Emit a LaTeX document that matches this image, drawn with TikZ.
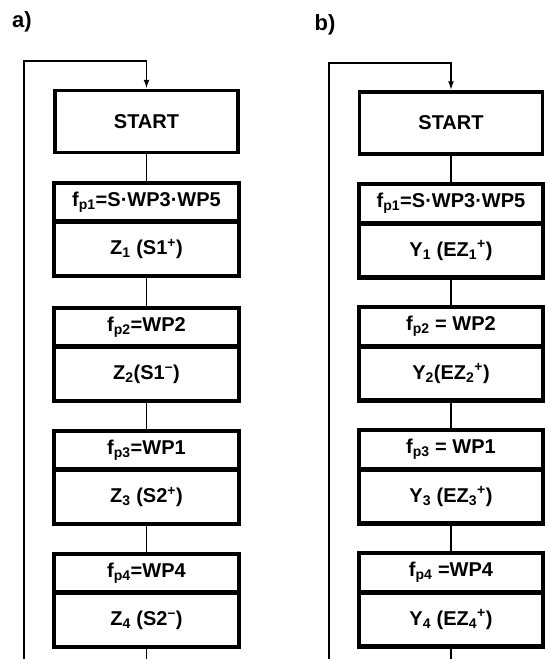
\documentclass[tikz,border=0pt]{standalone}
\usepackage{fontspec}
\setmainfont{Liberation Sans}
\usetikzlibrary{positioning,arrows.meta}
\tikzset{
  boxfont/.style={font=\fontsize{20}{23}\selectfont\bfseries},
  startbox/.style={draw, line width=3.5pt, minimum width=183pt, minimum height=62pt, inner sep=0pt, boxfont},
  condbox/.style={draw, line width=2.5pt, minimum width=183pt, minimum height=37pt, inner sep=0pt, boxfont},
  actbox/.style={draw, line width=2.5pt, minimum width=183pt, minimum height=52pt, inner sep=0pt, boxfont},
  frame/.style={line width=3.5pt},
  link/.style={line width=1.8pt},
  panel/.style={font=\fontsize{22}{25}\selectfont\bfseries}
}
\newcommand{\sub}[1]{\textsubscript{#1}}
\newcommand{\plus}[1]{\textsubscript{#1}\textsuperscript{+}}
\begin{document}
\begin{tikzpicture}[x=1pt,y=-1pt]
  \useasboundingbox (0,0) rectangle (544,659);
  % panel a
  \node[panel] (la) at (22,22) {a)};
  \node[startbox] (sa) at (146.5,121.5) {START};
  \node[condbox, below=28pt of sa] (ca1) {f\sub{p1}=S·WP3·WP5};
  \node[actbox, below=0pt of ca1] (aa1) {Z\sub{1} (S1\textsuperscript{+})};
  \node[condbox, below=31pt of aa1] (ca2) {f\sub{p2}=WP2};
  \node[actbox, below=0pt of ca2] (aa2) {Z\sub{2}(S1\textsuperscript{--})};
  \node[condbox, below=29pt of aa2] (ca3) {f\sub{p3}=WP1};
  \node[actbox, below=0pt of ca3] (aa3) {Z\sub{3} (S2\textsuperscript{+})};
  \node[condbox, below=29pt of aa3] (ca4) {f\sub{p4}=WP4};
  \node[actbox, below=0pt of ca4] (aa4) {Z\sub{4} (S2\textsuperscript{--})};
  \draw[frame] (ca1.north west) rectangle (aa1.south east);
  \draw[frame] (ca2.north west) rectangle (aa2.south east);
  \draw[frame] (ca3.north west) rectangle (aa3.south east);
  \draw[frame] (ca4.north west) rectangle (aa4.south east);
  \draw[link] (sa) -- (ca1);
  \draw[link] (aa1) -- (ca2);
  \draw[link] (aa2) -- (ca3);
  \draw[link] (aa3) -- (ca4);
  \coordinate (enda) at (146.5,659);
  \coordinate (loopa) at (24,659);
  \coordinate (topa) at (24,61);
  \draw[link] (aa4) -- (enda);
  \draw[link, -{Latex[length=9pt,width=6pt]}] (loopa) -- (topa) -| (sa.north);
  % panel b
  \node[panel] (lb) at (325,25) {b)};
  \node[startbox] (sb) at (451,123) {START};
  \node[condbox, below=28pt of sb] (cb1) {f\sub{p1}=S·WP3·WP5};
  \node[actbox, below=0pt of cb1] (ab1) {Y\sub{1} (EZ\plus{1})};
  \node[condbox, below=29pt of ab1] (cb2) {f\sub{p2} = WP2};
  \node[actbox, below=0pt of cb2] (ab2) {Y\sub{2}(EZ\plus{2})};
  \node[condbox, below=29pt of ab2] (cb3) {f\sub{p3} = WP1};
  \node[actbox, below=0pt of cb3] (ab3) {Y\sub{3} (EZ\plus{3})};
  \node[condbox, below=29pt of ab3] (cb4) {f\sub{p4} =WP4};
  \node[actbox, below=0pt of cb4] (ab4) {Y\sub{4} (EZ\plus{4})};
  \draw[frame] (cb1.north west) rectangle (ab1.south east);
  \draw[frame] (cb2.north west) rectangle (ab2.south east);
  \draw[frame] (cb3.north west) rectangle (ab3.south east);
  \draw[frame] (cb4.north west) rectangle (ab4.south east);
  \draw[link] (sb) -- (cb1);
  \draw[link] (ab1) -- (cb2);
  \draw[link] (ab2) -- (cb3);
  \draw[link] (ab3) -- (cb4);
  \coordinate (endb) at (451,659);
  \coordinate (loopb) at (329,659);
  \coordinate (topb) at (329,63);
  \draw[link] (ab4) -- (endb);
  \draw[link, -{Latex[length=9pt,width=6pt]}] (loopb) -- (topb) -| (sb.north);
\end{tikzpicture}
\end{document}
